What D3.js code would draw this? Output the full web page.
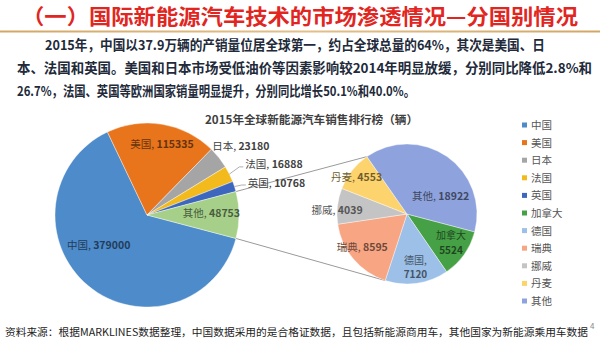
<!DOCTYPE html>
<html><head><meta charset="utf-8">
<script src="https://cdn.jsdelivr.net/npm/d3@7"></script>
<style>
html,body{margin:0;padding:0;background:#fff;}
svg{display:block;font-family:"Noto Sans CJK SC","Noto Sans",sans-serif;}
</style></head>
<body><svg id="c" width="600" height="350"></svg>
<script>
// ---- data ----
const categories = ["中国","美国","日本","法国","英国","加拿大","德国","瑞典","挪威","丹麦","其他"];
const sales = [379000,115335,23180,16888,10768,5524,7120,8595,4039,4553,18922];
const mainCount = 5;               // first categories shown in the main pie
const groupedName = "其他";         // grouped slice in the main pie
const titleText = "（一）国际新能源汽车技术的市场渗透情况—分国别情况";
const paragraph = [
  "2015年，中国以37.9万辆的产销量位居全球第一，约占全球总量的64%，其次是美国、日",
  "本、法国和英国。美国和日本市场受低油价等因素影响较2014年明显放缓，分别同比降低2.8%和",
  "26.7%，法国、英国等欧洲国家销量明显提升，分别同比增长50.1%和40.0%。"
];
const chartTitle = "2015年全球新能源汽车销售排行榜（辆）";
const sourceText = "资料来源：根据MARKLINES数据整理，中国数据采用的是合格证数据，且包括新能源商用车，其他国家为新能源乘用车数据";
const pageNo = "4";

// ---- styles / layout ----
const colors = ["#4E8BCB","#E8741C","#A5A5A5","#F2BA1C","#3D66BE","#46A146","#9DC0E8","#F8A583","#C4C4C4","#FDD36E","#8EA3DD"];
const groupedColor = "#A6D08A";
const mainC = {x:147, y:215, r:92};
const subC  = {x:407, y:214, r:70};
// label placement: [angle in degrees (0 = top, clockwise), radius factor, anchor]
const mainLabelPos = {"中国":[238,0.62,"middle"],"美国":[12,0.78,"middle"],"日本":[54,1.26,"middle"],
  "法国":[63,1.2,"start"],"英国":[72.4,1.15,"start"],"其他":[89,0.7,"middle"]};
const subLabelPos = {"加拿大":[123,0.75,"middle"],"德国":[171,0.77,"middle"],"瑞典":[233,0.8,"middle"],
  "挪威":[273,1.0,"middle"],"丹麦":[306,0.89,"middle"],"其他":[63,0.54,"middle"]};

const svg = d3.select("#c");
const deg = Math.PI/180;
function polar(c, a, r){ return [c.x + r*Math.sin(a), c.y - r*Math.cos(a)]; }

// ---- header ----
svg.append("text").attr("x",300).attr("y",24).attr("text-anchor","middle")
  .attr("font-size",21).attr("font-weight","bold").attr("fill","#E1261F")
  .attr("textLength",556).attr("lengthAdjust","spacingAndGlyphs").text(titleText);
const grad = svg.append("defs").append("linearGradient").attr("id","lg");
grad.append("stop").attr("offset","0").attr("stop-color","#D2A765");
grad.append("stop").attr("offset","0.5").attr("stop-color","#E3C08A");
grad.append("stop").attr("offset","1").attr("stop-color","#D2A765");
svg.append("rect").attr("x",0).attr("y",30.5).attr("width",600).attr("height",2).attr("fill","url(#lg)");

const paraX = [45,17,17], paraW = [500,575,398];
paragraph.forEach((t,i)=>{
  svg.append("text").attr("x",paraX[i]).attr("y",50+i*23)
    .attr("font-size",13.5).attr("font-weight","bold").attr("fill","#222a3a")
    .attr("textLength",paraW[i]).attr("lengthAdjust","spacingAndGlyphs").text(t);
});

svg.append("text").attr("x",205).attr("y",124).attr("font-size",11.5).attr("font-weight","bold")
  .attr("fill","#404040").attr("textLength",213).attr("lengthAdjust","spacingAndGlyphs").text(chartTitle);

// ---- data prep ----
const all = categories.map((n,i)=>({name:n, value:sales[i], color:colors[i]}));
const rest = all.slice(mainCount);
const groupedTotal = d3.sum(rest, d=>d.value);
const mainData = all.slice(0,mainCount).concat([{name:groupedName, value:groupedTotal, color:groupedColor}]);
const total = d3.sum(mainData, d=>d.value);
const groupedAngle = 2*Math.PI*groupedTotal/total;
const start = Math.PI/2 + groupedAngle/2;

const pie = d3.pie().sort(null).value(d=>d.value).startAngle(start).endAngle(start+2*Math.PI);
const mainArcs = pie(mainData);
const subArcs = pie(rest);

// ---- connector lines ----
const gArc = mainArcs[mainArcs.length-1];
const subOtherArc = subArcs[subArcs.length-1];
const subSweden = subArcs.find(d=>d.data.name==="瑞典");
const p1 = polar(mainC, gArc.startAngle, mainC.r), p2 = polar(subC, subOtherArc.startAngle, subC.r);
const p3 = polar(mainC, gArc.endAngle, mainC.r),   p4 = polar(subC, subSweden.startAngle, subC.r);
[[p1,p2],[p3,p4]].forEach(([a,b])=>{
  svg.append("line").attr("x1",a[0]).attr("y1",a[1]).attr("x2",b[0]).attr("y2",b[1])
    .attr("stroke","#9a9a9a").attr("stroke-width",1);
});

// ---- pies ----
function drawPie(arcs, c){
  const arc = d3.arc().innerRadius(0).outerRadius(c.r);
  svg.append("g").attr("transform",`translate(${c.x},${c.y})`)
    .selectAll("path").data(arcs).join("path")
    .attr("d",arc).attr("fill",d=>d.data.color).attr("stroke","#fff").attr("stroke-width",0.4);
}
drawPie(mainArcs, mainC);
drawPie(subArcs, subC);

function labelColor(d, outside){
  if(outside) return "#404040";
  return d3.color(d.data.color).darker(2.3).formatHex();
}
function drawLabels(arcs, c, pos, twoLine){
  arcs.forEach(d=>{
    const p = pos[d.data.name]; if(!p) return;
    const [x,y] = polar(c, p[0]*deg, c.r*p[1]);
    const outside = p[1] > 1.05;
    const fill = labelColor(d,outside);
    if(twoLine.includes(d.data.name)){
      svg.append("text").attr("x",x).attr("y",y-3.5).attr("text-anchor",p[2])
        .attr("font-size",10).attr("fill",fill)
        .text(d.data.name+(d.data.name==="德国"?",":""));
      svg.append("text").attr("x",x).attr("y",y+11).attr("text-anchor",p[2])
        .attr("font-size",10).attr("font-weight","bold").attr("fill",fill).text(d.data.value);
    } else {
      const t = svg.append("text").attr("x",x).attr("y",y+3.5).attr("text-anchor",p[2])
        .attr("font-size",10.5).attr("fill",fill);
      t.append("tspan").text(d.data.name+", ");
      t.append("tspan").attr("font-weight","bold").text(d.data.value);
    }
  });
}
drawLabels(mainArcs, mainC, mainLabelPos, []);
drawLabels(subArcs, subC, subLabelPos, ["加拿大","德国"]);

// leader ticks for small outside labels
["法国","英国"].forEach(n=>{
  const d = mainArcs.find(a=>a.data.name===n);
  const mid = (d.startAngle+d.endAngle)/2;
  const a = polar(mainC, mid, mainC.r*1.0);
  const p = mainLabelPos[n];
  const b = polar(mainC, p[0]*deg, mainC.r*p[1]);
  svg.append("polyline").attr("points",`${a[0]},${a[1]} ${b[0]-6},${b[1]+2} ${b[0]-2},${b[1]+2}`)
    .attr("fill","none").attr("stroke","#9a9a9a").attr("stroke-width",0.8);
});

// ---- legend ----
const lg = svg.append("g");
all.forEach((d,i)=>{
  const y = 125 + i*17.6;
  lg.append("rect").attr("x",522).attr("y",y-2.5).attr("width",5).attr("height",5).attr("fill",d.color);
  lg.append("text").attr("x",531).attr("y",y+4).attr("font-size",10.5).attr("fill","#555").text(d.name);
});

// ---- footer ----
svg.append("text").attr("x",5).attr("y",336).attr("font-size",10).attr("fill","#222")
  .attr("textLength",583).attr("lengthAdjust","spacingAndGlyphs").text(sourceText);
svg.append("text").attr("x",590).attr("y",329).attr("font-size",8).attr("fill","#888").text(pageNo);
</script></body></html>
